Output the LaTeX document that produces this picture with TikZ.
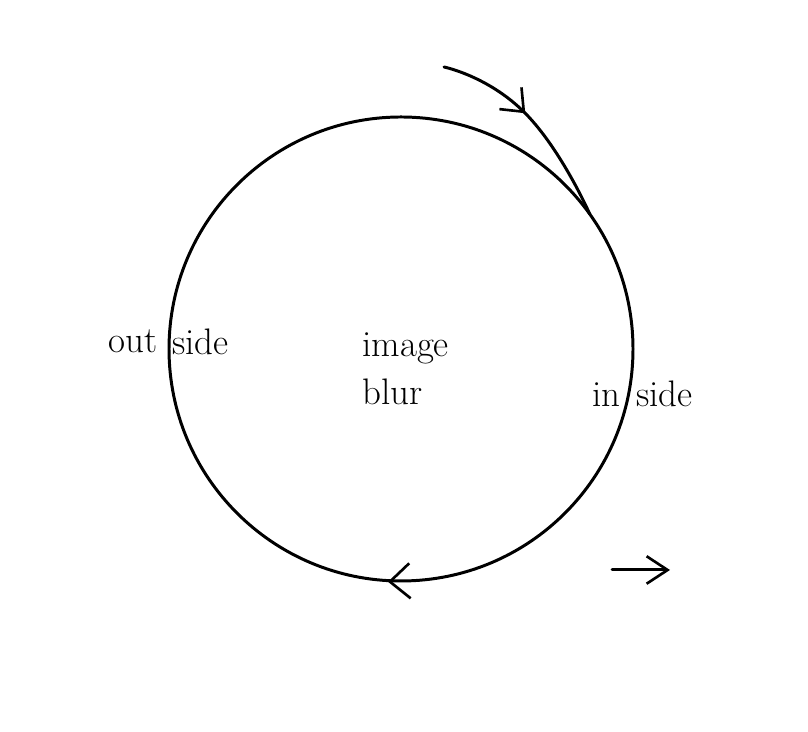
\documentclass[tikz,border=0pt]{standalone}
\usepackage{tikz}
\usetikzlibrary{positioning,arrows.meta,calc,decorations.markings}
\tikzset{
  pen/.style={line width=1.7pt,line cap=round,line join=round,black},
  word/.style={font=\fontsize{21}{25}\selectfont,inner sep=0pt,anchor=base west},
  barb/.tip={Straight Barb[length=0.38cm,width=0.62cm,line width=1.5pt]},
  barb back/.tip={Straight Barb[reversed,length=0.4cm,width=0.7cm,line width=1.5pt]},
  ring/.style={pen,postaction={decorate},decoration={markings,
    mark=at position 0.757 with {\arrow{barb back}}}},
  feed/.style={pen,postaction={decorate},decoration={markings,
    mark=at position 0.44 with {\arrow{barb}}}},
}

\begin{document}
\begin{tikzpicture}
\useasboundingbox (0,0) rectangle (16.16,14.64);
\coordinate (ctr) at (8.02,7.66);
\coordinate (start) at (8.88,13.30);
\coordinate (bend) at (10.50,12.38);
\coordinate (join) at ($(ctr)+(35.5:4.64)$);
\coordinate (dirA) at (12.24,3.24);
\coordinate (dirB) at (13.40,3.24);
% the loop
\draw[ring] (ctr) circle[radius=4.64cm];
\draw[feed] plot[smooth,tension=0.9] coordinates {(start) (bend) (join)};
% words
\node[word] (out) at (2.16,7.58) {out};
\node[word] (side1) at (3.44,7.54) {side};
\node[word] (image) at (7.24,7.50) {image};
\node[word] (blur) at (7.24,6.54) {blur};
\node[word] (in) at (11.84,6.50) {in};
\node[word] (side2) at (12.72,6.50) {side};
\draw[pen,-{Straight Barb[length=0.42cm,width=0.55cm,line width=1.5pt]}] (dirA) -- (dirB);
\end{tikzpicture}
\end{document}
